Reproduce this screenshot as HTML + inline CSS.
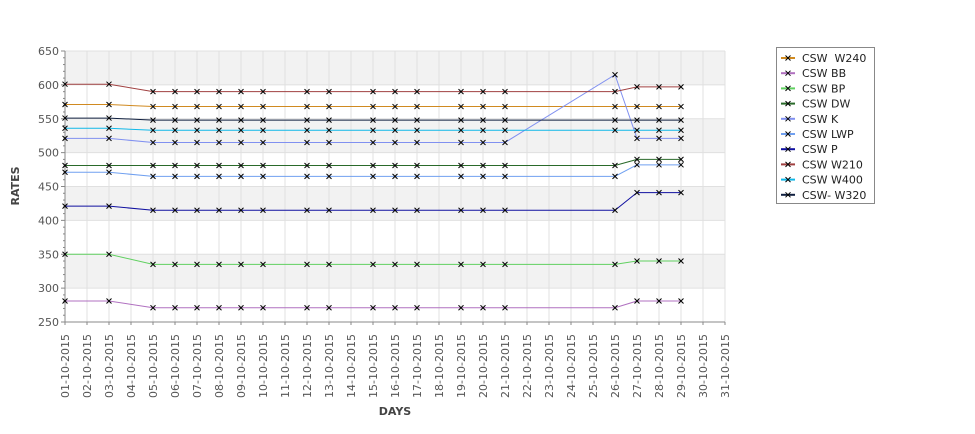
<!DOCTYPE html>
<html><head><meta charset="utf-8"><style>
body{margin:0;background:#fff;font-family:"Liberation Sans","DejaVu Sans",sans-serif;}
svg text{font-family:"DejaVu Sans","Liberation Sans",sans-serif;}
</style></head><body>
<svg id="chart" width="975" height="429" viewBox="0 0 975 429"></svg>
<script>
const days = [1,3,5,6,7,8,9,10,12,13,15,16,17,19,20,21,26,27,28,29];
const seriesNames = ["CSW  W240","CSW BB","CSW BP","CSW DW","CSW K","CSW LWP","CSW P","CSW W210","CSW W400","CSW- W320"];
const w240 = [571,571,568,568,568,568,568,568,568,568,568,568,568,568,568,568,568,568,568,568];
const bb   = [281,281,271,271,271,271,271,271,271,271,271,271,271,271,271,271,271,281,281,281];
const bp   = [350,350,335,335,335,335,335,335,335,335,335,335,335,335,335,335,335,340,340,340];
const dw   = [481,481,481,481,481,481,481,481,481,481,481,481,481,481,481,481,481,490,490,490];
const k    = [521,521,515,515,515,515,515,515,515,515,515,515,515,515,515,515,615,521,521,521];
const lwp  = [471,471,465,465,465,465,465,465,465,465,465,465,465,465,465,465,465,482,482,482];
const p    = [421,421,415,415,415,415,415,415,415,415,415,415,415,415,415,415,415,441,441,441];
const w210 = [601,601,590,590,590,590,590,590,590,590,590,590,590,590,590,590,590,597,597,597];
const w400 = [536,536,533,533,533,533,533,533,533,533,533,533,533,533,533,533,533,533,533,533];
const w320 = [551,551,548,548,548,548,548,548,548,548,548,548,548,548,548,548,548,548,548,548];
const yTicks = [250,300,350,400,450,500,550,600,650];
const allDays = Array.from({length:31},(_,i)=>i+1);

const colors = ["#d08a20","#b070c0","#60d060","#2a6a2a","#8090f0","#70a0f0","#1010a0","#a04040","#10b8e8","#102040"];
const seriesData = [w240,bb,bp,dw,k,lwp,p,w210,w400,w320];
const X0=65, X1=725, Y0=51, Y1=322;
function xs(d){return X0+(d-1)*(X1-X0)/30;}
function ys(v){return Y1-(v-250)*(Y1-Y0)/400;}
const svg=document.getElementById('chart');
const NS="http://www.w3.org/2000/svg";
function mk(tag,attrs,parent){const e=document.createElementNS(NS,tag);for(const a in attrs)e.setAttribute(a,attrs[a]);(parent||svg).appendChild(e);return e;}

for(let i=0;i<yTicks.length-1;i++){
  if(i%2===1){
    const r=mk('rect',{x:X0,y:ys(yTicks[i+1]),width:X1-X0,height:ys(yTicks[i])-ys(yTicks[i+1]),fill:'#f2f2f2'});
    
    
  }
}
allDays.forEach(d=>{
  const l=mk('line',{x1:xs(d),x2:xs(d),y1:Y0,y2:Y1,stroke:'#e0e0e0','stroke-width':1});
  
  
});
yTicks.forEach(v=>{
  const l=mk('line',{x1:X0,x2:X1,y1:ys(v),y2:ys(v),stroke:'#e0e0e0','stroke-width':1});
  
  
});
const ax=mk('line',{x1:X0,x2:X1,y1:Y1,y2:Y1,stroke:'#888'});


const ay=mk('line',{x1:X0,x2:X0,y1:Y0,y2:Y1,stroke:'#888'});


for(let v=250;v<=650;v+=10){
  const major=(v%50===0);
  const t=mk('line',{x1:X0-(major?4:2),x2:X0,y1:ys(v),y2:ys(v),stroke:'#888'});
  
  
}
yTicks.forEach(v=>{
  const t=mk('text',{x:X0-6,y:ys(v)+4,'text-anchor':'end','font-size':11,fill:'#555'});
  t.textContent=v;
  
  
});
allDays.forEach(d=>{
  const t=mk('line',{x1:xs(d),x2:xs(d),y1:Y1,y2:Y1+3,stroke:'#888'});
  
  
  const lbl=mk('text',{transform:`translate(${xs(d)+4},${Y1+12}) rotate(-90)`,'text-anchor':'end','font-size':11,fill:'#555'});
  lbl.textContent=String(d).padStart(2,'0')+'-10-2015';
  
  
});
const yt=mk('text',{transform:'translate(19,186) rotate(-90)','text-anchor':'middle','font-size':11,'font-weight':'bold',fill:'#444'});
yt.textContent='RATES';


const xt=mk('text',{x:395,y:415,'text-anchor':'middle','font-size':11,'font-weight':'bold',fill:'#444'});
xt.textContent='DAYS';



function cross(x,y,parent){
  const s=2.5;
  const g=mk('path',{d:`M${x-s},${y-s}L${x+s},${y+s}M${x-s},${y+s}L${x+s},${y-s}`,stroke:'#000','stroke-width':1},parent);
  
  
}
seriesData.forEach((arr,si)=>{
  const g=mk('g',{});
  
  
  const pts=arr.map((v,i)=>xs(days[i])+','+ys(v)).join(' ');
  const pl=mk('polyline',{points:pts,fill:'none',stroke:colors[si],'stroke-width':1},g);
  
  
  arr.forEach((v,i)=>cross(xs(days[i]),ys(v),g));
});
const lg=mk('g',{});


mk('rect',{x:776.5,y:47.5,width:98,height:156,fill:'#fff',stroke:'#888'},lg);
seriesNames.forEach((n,i)=>{
  const y=58+i*15.2;
  const e=mk('g',{},lg);
  
  
  mk('line',{x1:781,x2:795,y1:y,y2:y,stroke:colors[i],'stroke-width':2},e);
  cross(788,y,e);
  const t=mk('text',{x:802,y:y+4,'font-size':11,fill:'#222'},e);
  t.textContent=n;
  
  
  t.setAttribute('xml:space','preserve');
  t.style.whiteSpace='pre';
});
</script>
</body></html>
